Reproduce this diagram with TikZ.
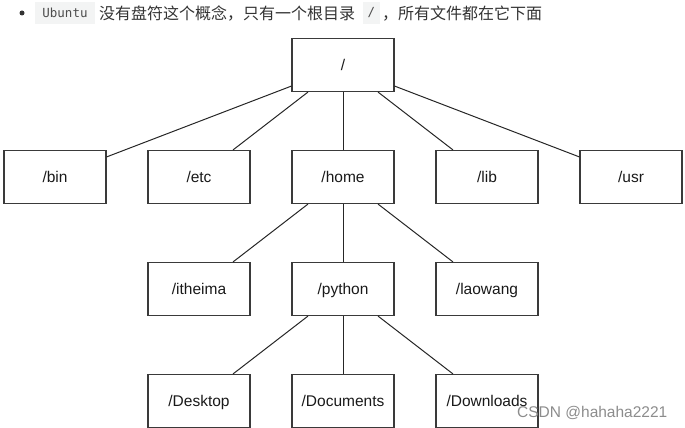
\documentclass[tikz,border=0pt]{standalone}
\usepackage{fontspec}
\setmainfont{Liberation Sans}
\newfontfamily\cjk{Noto Sans CJK SC}
\newfontfamily\codefont{DejaVu Sans Mono}
\usetikzlibrary{calc}
\definecolor{boxline}{HTML}{3A3A3A}
\definecolor{txt}{HTML}{333333}
\definecolor{codebg}{HTML}{F3F4F4}
\definecolor{codetxt}{HTML}{4D4D4D}
\begin{document}
\begin{tikzpicture}[x=1pt,y=-1pt,
  dirbox/.style={draw=boxline,line width=1.1pt,minimum width=102pt,minimum height=53pt,inner sep=0pt,
    text height=12.5pt,text depth=1pt,font=\fontsize{15.5}{18}\selectfont,text=black!90},
  conn/.style={draw=black!85,line width=1pt},
  codebox/.style={fill=codebg,inner sep=0pt,minimum height=22pt,text=codetxt,font=\codefont\fontsize{12.5}{15}\selectfont},
  cntext/.style={anchor=west,inner sep=0pt,text=txt,font=\cjk\fontsize{16}{19}\selectfont}]
\useasboundingbox (0,0) rectangle (685,428);
% header line
\fill[txt] (22,13) circle (2.5);
\node[codebox,minimum width=60pt] (ubuntu) at (65,13) {Ubuntu};
\node[cntext] (t1) at (99,13.5) {没有盘符这个概念，只有一个根目录};
\node[codebox,minimum width=17pt] (slash) at (371.5,13) {/};
\node[cntext] (t2) at (382,13.5) {，所有文件都在它下面};
% tree
\node[dirbox] (root) at (343,65) {/};
\node[dirbox] (bin) at (55,177) {/bin};
\node[dirbox] (etc) at (199,177) {/etc};
\node[dirbox] (home) at (343,177) {/home};
\node[dirbox] (lib) at (487,177) {/lib};
\node[dirbox] (usr) at (631,177) {/usr};
\node[dirbox] (itheima) at (199,289) {/itheima};
\node[dirbox] (python) at (343,289) {/python};
\node[dirbox] (laowang) at (487,289) {/laowang};
\node[dirbox] (desktop) at (199,401) {/Desktop};
\node[dirbox] (documents) at (343,401) {/Documents};
\node[dirbox] (downloads) at (487,401) {/Downloads};
% connectors
\draw[conn] ($(root.south west)+(0,-6)$) -- ($(bin.north east)+(0,7)$);
\draw[conn] ($(root.south)+(-35,0)$) -- ($(etc.north)+(34,0)$);
\draw[conn] (root.south) -- (home.north);
\draw[conn] ($(root.south)+(35,0)$) -- ($(lib.north)+(-34,0)$);
\draw[conn] ($(root.south east)+(0,-6)$) -- ($(usr.north west)+(0,7)$);
\draw[conn] ($(home.south)+(-35,0)$) -- ($(itheima.north)+(34,0)$);
\draw[conn] (home.south) -- (python.north);
\draw[conn] ($(home.south)+(35,0)$) -- ($(laowang.north)+(-34,0)$);
\draw[conn] ($(python.south)+(-35,0)$) -- ($(desktop.north)+(34,0)$);
\draw[conn] (python.south) -- (documents.north);
\draw[conn] ($(python.south)+(35,0)$) -- ($(downloads.north)+(-34,0)$);
% watermark
\node[anchor=west,inner sep=0pt,text=black!45,font=\fontsize{15.5}{18}\selectfont] (wm) at (517,413) {CSDN @hahaha2221};
\end{tikzpicture}
\end{document}
